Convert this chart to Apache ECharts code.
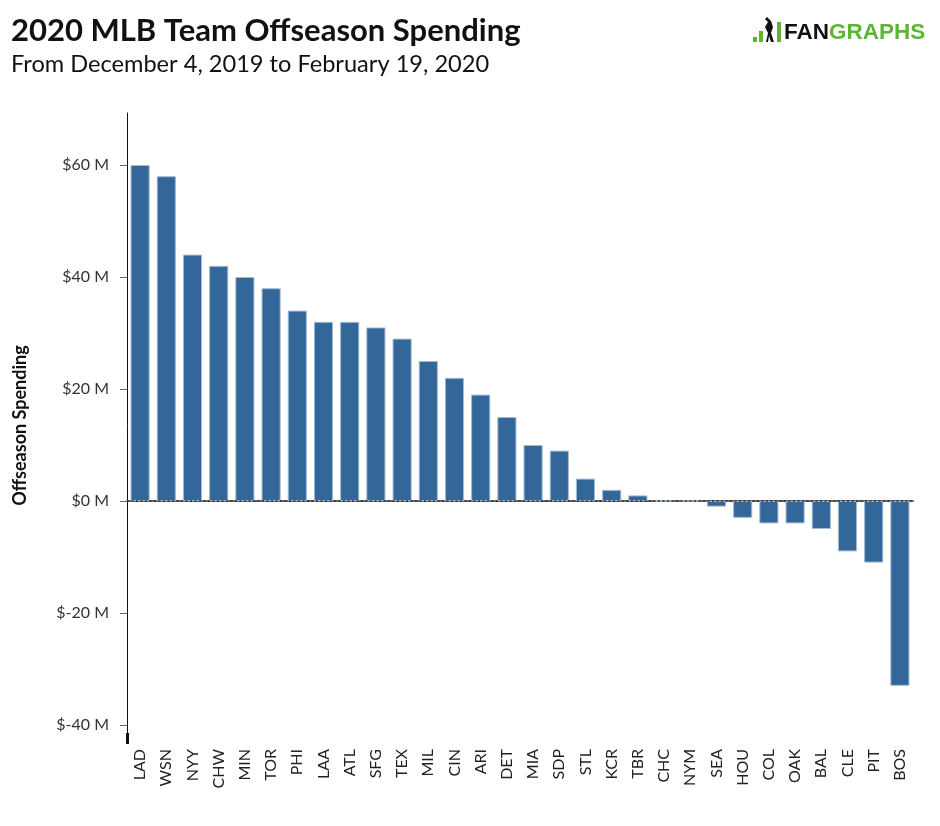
<!DOCTYPE html>
<html><head><meta charset="utf-8">
<script src="https://cdn.jsdelivr.net/npm/echarts@6/dist/echarts.min.js"></script>
<style>html,body{margin:0;padding:0;background:#fff}#c{width:940px;height:826px}</style>
</head><body><div id="c"></div>
<script>
var teams = ["LAD","WSN","NYY","CHW","MIN","TOR","PHI","LAA","ATL","SFG","TEX","MIL","CIN","ARI","DET","MIA","SDP","STL","KCR","TBR","CHC","NYM","SEA","HOU","COL","OAK","BAL","CLE","PIT","BOS"];
var spending = [60,58,44,42,40,38,34,32,32,31,29,25,22,19,15,10,9,4,2,1,0,0,-1,-3,-4,-4,-5,-9,-11,-33];
var yTicks = [-40,-20,0,20,40,60];

var chart = echarts.init(document.getElementById('c'));
chart.setOption({
  backgroundColor: '#fff',
  animation: false,
  title: [
    {text: '2020 MLB Team Offseason Spending', left: 6, top: 10,
     textStyle: {fontFamily: 'Lato', fontWeight: 'bold', fontSize: 31, color: '#111'}},
    {text: 'From December 4, 2019 to February 19, 2020', left: 6, top: 47,
     textStyle: {fontFamily: 'Lato', fontWeight: 'normal', fontSize: 23.6, color: '#111'}}
  ],
  graphic: [
    {type: 'rect', shape: {x: 753, y: 37, width: 4, height: 5}, style: {fill: '#5cb534'}},
    {type: 'rect', shape: {x: 759, y: 31, width: 4, height: 11}, style: {fill: '#5cb534'}},
    {type: 'polygon', shape: {points: [[766,42],[768,33],[765,27],[768,22],[765,19],[767,17],[771,21],[773,27],[771,33],[774,42],[771,42],[769,36],[768,42]]}, style: {fill: '#111'}},
    {type: 'rect', shape: {x: 777, y: 22, width: 4, height: 20}, style: {fill: '#5cb534'}},
    {type: 'text', left: 784, top: 21, style: {
      text: '{a|FAN}{b|GRAPHS}',
      rich: {
        a: {fontFamily: 'Liberation Sans', fontWeight: 'bold', fontSize: 22.5, fill: '#111', color: '#111'},
        b: {fontFamily: 'Liberation Sans', fontWeight: 'bold', fontSize: 22.5, fill: '#5cb534', color: '#5cb534'}
      }}},
    {type: 'rect', shape: {x: 126, y: 733, width: 3, height: 11}, style: {fill: '#111'}}
  ],
  grid: {left: 127, right: 27, top: 113, bottom: 88, containLabel: false},
  xAxis: {
    type: 'category', data: teams,
    axisLine: {lineStyle: {color: '#666', width: 2}},
    axisTick: {show: false},
    axisLabel: {rotate: 90, margin: 11, fontFamily: 'Lato', fontSize: 16, color: '#222', interval: 0}
  },
  yAxis: {
    type: 'value', min: -42.32, max: 69.29,
    name: 'Offseason Spending', nameLocation: 'middle', nameGap: 98, nameRotate: 90,
    nameTextStyle: {fontFamily: 'Lato', fontWeight: 'bold', fontSize: 18, color: '#111'},
    axisLine: {show: true, lineStyle: {color: '#111', width: 1}},
    axisTick: {show: true, length: 7, customValues: yTicks, lineStyle: {color: '#666'}},
    axisLabel: {customValues: yTicks, margin: 18, fontFamily: 'Lato', fontSize: 16, color: '#333',
      formatter: function (v) { return '$' + v + ' M'; }},
    splitLine: {show: false}
  },
  series: [{
    type: 'bar', data: spending, barWidth: '73%',
    itemStyle: {color: '#336699', borderColor: '#a3bad3', borderWidth: 1},
    markLine: {
      silent: true, symbol: 'none', label: {show: false},
      lineStyle: {type: [2, 2.5], color: '#333', width: 1.5},
      data: [{yAxis: 0}]
    }
  }]
});
</script></body></html>
